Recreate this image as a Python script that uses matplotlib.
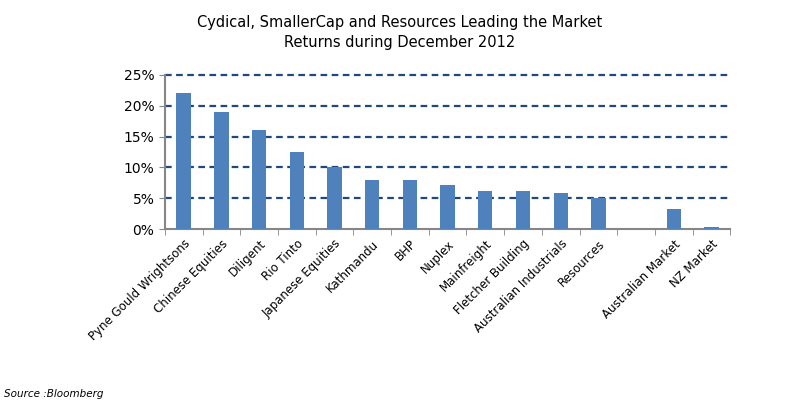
import numpy as np
import matplotlib.pyplot as plt
from matplotlib.ticker import FuncFormatter

# returns for December 2012 (percent), one empty slot as in the original
names = ["Pyne Gould Wrightsons", "Chinese Equities", "Diligent", "Rio Tinto",
         "Japanese Equities", "Kathmandu", "BHP", "Nuplex", "Mainfreight",
         "Fletcher Building", "Australian Industrials", "Resources", "",
         "Australian Market", "NZ Market"]
returns = [22.0, 19.0, 16.0, 12.5, 10.0, 8.0, 8.0, 7.2, 6.1, 6.1, 5.8, 5.0,
           np.nan, 3.3, 0.3]

fig = plt.figure(figsize=(8, 4.09), dpi=100)
ax = fig.add_axes([0.206, 0.44, 0.707, 0.377])

x = np.arange(len(names))
ax.bar(x, np.nan_to_num(returns), width=0.38, color="#4F81BD", zorder=3)

ax.set_xlim(-0.5, len(names) - 0.5)
ax.set_ylim(0, 25)
ax.set_yticks([0, 5, 10, 15, 20, 25])
ax.yaxis.set_major_formatter(FuncFormatter(lambda v, p: "%d%%" % v))
for v in [5, 10, 15, 20, 25]:
    ax.axhline(v, color="#1F497D", linestyle=(0, (3, 2)), linewidth=1.6,
               zorder=2, clip_on=False)

ax.set_xticks(x)
ax.set_xticklabels(names, rotation=45, ha="right", rotation_mode="anchor", fontsize=8.5)
ax.tick_params(axis="x", which="major", length=0, pad=6)
ax.set_xticks(np.arange(-0.5, len(names)), minor=True)
ax.tick_params(axis="x", which="minor", length=4, color="#868686", direction="out")
ax.tick_params(axis="y", length=4, color="#868686", labelsize=10)

for s in ["top", "right"]:
    ax.spines[s].set_visible(False)
ax.spines["left"].set_color("#868686")
ax.spines["bottom"].set_color("#868686")
ax.spines["left"].set_linewidth(1.5)
ax.spines["bottom"].set_linewidth(1.5)

fig.text(0.5, 0.935, "Cydical, SmallerCap and Resources Leading the Market",
         ha="center", fontsize=10.5)
fig.text(0.5, 0.885, "Returns during December 2012", ha="center", fontsize=10.5)
fig.text(0.005, 0.03, "Source :Bloomberg", fontsize=7.5, style="italic")

fig.savefig("out.png", dpi=100)
